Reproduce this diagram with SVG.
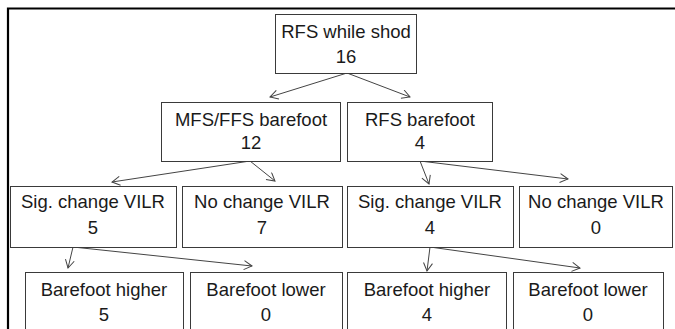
<svg xmlns="http://www.w3.org/2000/svg" width="675" height="329" viewBox="0 0 675 329">
<style>
.box{fill:#fff;stroke:#3a3a3a;stroke-width:1}
.t{font-family:"Liberation Sans",Arial,sans-serif;font-size:18.5px;fill:#1a1a1a;text-anchor:middle}
.c{stroke:#444;stroke-width:1;fill:none;marker-end:url(#arr)}
</style>
<defs>
<marker id="arr" markerWidth="12" markerHeight="12" refX="9" refY="5" orient="auto" markerUnits="userSpaceOnUse">
<path d="M1,0.5 L9,5 L1,9.5" fill="none" stroke="#444" stroke-width="1"/>
</marker>
</defs>
<rect width="675" height="329" fill="#fff"/>
<path d="M8,329 V8.5 H675" fill="none" stroke="#000" stroke-width="2.2" stroke-linejoin="miter"/>
<g id="connectors">
<line class="c" x1="347" y1="73" x2="270" y2="97"/>
<line class="c" x1="347" y1="73" x2="410" y2="97"/>
<line class="c" x1="250" y1="161" x2="112" y2="182"/>
<line class="c" x1="250" y1="161" x2="275" y2="181"/>
<line class="c" x1="420" y1="161" x2="429" y2="184"/>
<line class="c" x1="420" y1="161" x2="568" y2="179"/>
<line class="c" x1="73" y1="247" x2="68" y2="268"/>
<line class="c" x1="73" y1="247" x2="252" y2="266"/>
<line class="c" x1="430" y1="247" x2="427" y2="271"/>
<line class="c" x1="430" y1="247" x2="580" y2="268"/>
</g>
<g id="n_root"><rect class="box" x="275.5" y="14.5" width="141" height="59"/><text class="t" x="346" y="38">RFS while shod</text><text class="t" x="346" y="63">16</text></g>
<g id="n_mfs"><rect class="box" x="161.5" y="102.5" width="179" height="59"/><text class="t" x="251" y="126">MFS/FFS barefoot</text><text class="t" x="251" y="149">12</text></g>
<g id="n_rfs"><rect class="box" x="347.5" y="102.5" width="145" height="59"/><text class="t" x="420" y="126">RFS barefoot</text><text class="t" x="420" y="149">4</text></g>
<g id="n_sig1"><rect class="box" x="10.5" y="186.5" width="166" height="61"/><text class="t" x="93" y="208">Sig. change VILR</text><text class="t" x="93" y="234">5</text></g>
<g id="n_no1"><rect class="box" x="182.5" y="186.5" width="160" height="61"/><text class="t" x="262" y="208">No change VILR</text><text class="t" x="262" y="234">7</text></g>
<g id="n_sig2"><rect class="box" x="347.5" y="186.5" width="166" height="61"/><text class="t" x="430" y="208">Sig. change VILR</text><text class="t" x="430" y="234">4</text></g>
<g id="n_no2"><rect class="box" x="519.5" y="186.5" width="153" height="61"/><text class="t" x="596" y="208">No change VILR</text><text class="t" x="596" y="234">0</text></g>
<g id="n_bh1"><rect class="box" x="25.5" y="272.5" width="158" height="70"/><text class="t" x="104" y="296">Barefoot higher</text><text class="t" x="104" y="321">5</text></g>
<g id="n_bl1"><rect class="box" x="190.5" y="272.5" width="152" height="70"/><text class="t" x="266" y="296">Barefoot lower</text><text class="t" x="266" y="321">0</text></g>
<g id="n_bh2"><rect class="box" x="347.5" y="272.5" width="159" height="70"/><text class="t" x="427" y="296">Barefoot higher</text><text class="t" x="427" y="321">4</text></g>
<g id="n_bl2"><rect class="box" x="513.5" y="272.5" width="150" height="70"/><text class="t" x="588" y="296">Barefoot lower</text><text class="t" x="588" y="321">0</text></g>
</svg>
